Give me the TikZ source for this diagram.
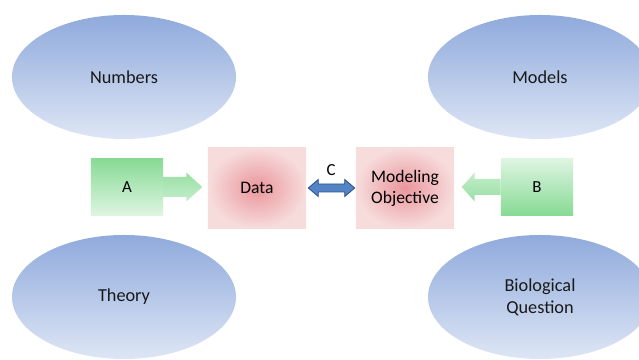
\documentclass[tikz,border=0pt]{standalone}
\usepackage{fontspec}
\setmainfont{Carlito}
\usetikzlibrary{shapes.geometric,calc}

\definecolor{blueTop}{RGB}{143,170,220}
\definecolor{blueBot}{RGB}{222,230,245}
\definecolor{redIn}{RGB}{234,150,156}
\definecolor{redOut}{RGB}{247,220,220}
\definecolor{greenDark}{RGB}{135,218,148}
\definecolor{greenLight}{RGB}{222,245,226}
\definecolor{linkFill}{RGB}{84,132,196}
\definecolor{linkLine}{RGB}{47,82,143}

\tikzset{
  topic/.style={ellipse, minimum width=5.6cm, minimum height=3.1cm,
    top color=blueTop, bottom color=blueBot, align=center,
    text=black!90, font=\fontsize{13}{15.5}\selectfont},
  goal/.style={rectangle, minimum width=2.45cm, minimum height=2.02cm,
    inner color=redIn, outer color=redOut, align=center,
    font=\fontsize{12.5}{15}\selectfont},
  input/.style={rectangle, minimum width=1.8cm, minimum height=1.42cm,
    font=\fontsize{12}{14}\selectfont},
}

\begin{document}
\begin{tikzpicture}[x=0.025cm,y=-0.025cm]

        \clip (0,0) rectangle (639,360);

        % four topics
        \node [topic] (numbers) at (124,77) {Numbers};
        \node [topic] (models) at (540,77) {Models};
        \node [topic] (theory) at (124,297) {Theory};
        \node [topic] (question) at (540,297) {Biological\\Question};

        % inputs
        \node [input, top color=greenDark, bottom color=greenLight] (A) at (127,187) {A};
        \node [input, top color=greenLight, bottom color=greenDark] (B) at (537,187) {B};

        % center boxes
        \node [goal] (data) at (257,188) {Data};
        \node [goal] (objective) at (405,188) {Modeling\\Objective};

        % block arrows
        \shade [top color=greenDark!85, bottom color=greenLight!70!greenDark]
            ($(A.east)+(0,-10)$) -- ($(A.east)+(23,-10)$) -- ($(A.east)+(23,-14.5)$)
            -- ($(A.east)+(39,0)$) -- ($(A.east)+(23,14.5)$) -- ($(A.east)+(23,10)$)
            -- ($(A.east)+(0,10)$) -- cycle;
        \shade [top color=greenLight!70!greenDark, bottom color=greenDark!85]
            ($(B.west)+(0,-8)$) -- ($(B.west)+(-26,-8)$) -- ($(B.west)+(-26,-14.5)$)
            -- ($(B.west)+(-39,0)$) -- ($(B.west)+(-26,14.5)$) -- ($(B.west)+(-26,8)$)
            -- ($(B.west)+(0,8)$) -- cycle;

        \filldraw [fill=linkFill, draw=linkLine, line width=0.6pt, line join=miter]
            ($(data.east)+(2,0)$) -- ($(data.east)+(12,-8.5)$) -- ($(data.east)+(12,-4)$)
            -- ($(objective.west)+(-11,-4)$) -- ($(objective.west)+(-11,-8.5)$)
            -- ($(objective.west)+(-1,0)$) -- ($(objective.west)+(-11,8.5)$)
            -- ($(objective.west)+(-11,4)$) -- ($(data.east)+(12,4)$)
            -- ($(data.east)+(12,8.5)$) -- cycle;
        \node [font=\fontsize{12}{14}\selectfont] (C)
            at ($(data.east)!0.5!(objective.west)+(0,-18)$) {C};

    \end{tikzpicture}
\end{document}
